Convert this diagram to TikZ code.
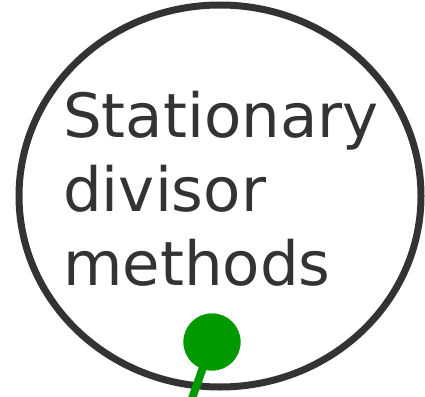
\documentclass[tikz,border=0pt]{standalone}
\usepackage{fontspec}
\setmainfont{DejaVu Sans}
\definecolor{ink}{HTML}{333333}
\definecolor{leaf}{HTML}{009900}
\begin{document}
\begin{tikzpicture}[x=1pt,y=-1pt,
  ring/.style={draw=ink,line width=7pt,fill=white},
  label/.style={text=ink,inner sep=0pt,align=left,font=\fontsize{61}{74}\selectfont},
  stem/.style={draw=leaf,line width=8pt},
  knob/.style={circle,fill=leaf,minimum size=57pt,inner sep=0pt}]
\useasboundingbox (0,0) rectangle (425,396);
\draw[ring] (220,196) ellipse [x radius=201, y radius=191];
% the base anchor of a multi-line node sits on its last line
\node[label,anchor=base west] (title) at (63,285) {Stationary\\divisor\\methods};
\node[knob] (dot) at (212,342) {};
\coordinate (tail) at (189,407);
\draw[stem] (dot.center) -- (tail);
\node[knob] at (dot) {};
\end{tikzpicture}
\end{document}
